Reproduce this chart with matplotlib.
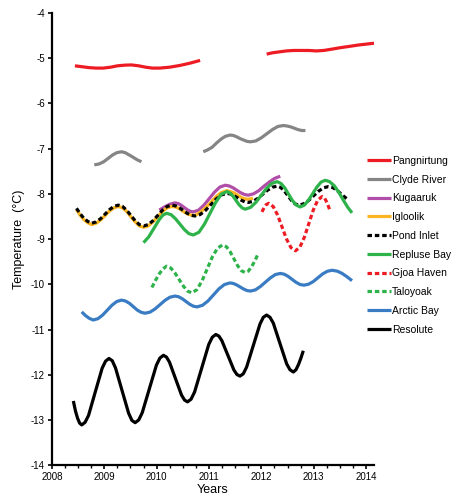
import matplotlib
matplotlib.use("Agg")
import matplotlib.pyplot as plt
from matplotlib.ticker import MultipleLocator

plt.rcParams['font.family'] = ['Liberation Sans', 'DejaVu Sans']
plt.rcParams['axes.unicode_minus'] = False

# --- data (decimal year, temperature in C) ---
pang_t1 = [2008.44, 2008.58, 2008.71, 2008.85, 2008.98, 2009.12, 2009.25, 2009.39, 2009.52, 2009.66,
           2009.79, 2009.92, 2010.06, 2010.25, 2010.45, 2010.64, 2010.83]
pang_v1 = [-5.17, -5.19, -5.21, -5.22, -5.22, -5.20, -5.17, -5.155, -5.15, -5.17,
           -5.20, -5.22, -5.22, -5.20, -5.16, -5.11, -5.05]
pang_t2 = [2012.10, 2012.22, 2012.35, 2012.48, 2012.61, 2012.76, 2012.90, 2013.05, 2013.19, 2013.35,
           2013.50, 2013.68, 2013.85, 2014.00, 2014.15]
pang_v2 = [-4.91, -4.88, -4.86, -4.84, -4.83, -4.83, -4.83, -4.84, -4.83, -4.80,
           -4.77, -4.74, -4.71, -4.69, -4.67]

clyde_t1 = [2008.81, 2008.90, 2008.99, 2009.07, 2009.16, 2009.24, 2009.33, 2009.40, 2009.46, 2009.52,
            2009.59, 2009.65, 2009.71]
clyde_v1 = [-7.36, -7.34, -7.29, -7.22, -7.14, -7.09, -7.07, -7.09, -7.13, -7.17,
            -7.22, -7.26, -7.29]
clyde_t2 = [2010.89, 2010.97, 2011.06, 2011.14, 2011.23, 2011.31, 2011.40, 2011.465, 2011.53, 2011.595,
            2011.66, 2011.725, 2011.79, 2011.895, 2012.00, 2012.105, 2012.21, 2012.315, 2012.42, 2012.49,
            2012.56, 2012.63, 2012.70, 2012.77, 2012.84]
clyde_v2 = [-7.07, -7.03, -6.97, -6.88, -6.79, -6.73, -6.70, -6.71, -6.74, -6.78,
            -6.81, -6.84, -6.85, -6.83, -6.76, -6.67, -6.58, -6.51, -6.49, -6.50,
            -6.52, -6.55, -6.58, -6.60, -6.60]

kug_t = [2010.05, 2010.15, 2010.25, 2010.35, 2010.408, 2010.467, 2010.525, 2010.583, 2010.642, 2010.70,
         2010.802, 2010.903, 2011.005, 2011.107, 2011.208, 2011.31, 2011.383, 2011.457, 2011.53, 2011.603,
         2011.677, 2011.75, 2011.85, 2011.95, 2012.05, 2012.15, 2012.25, 2012.36]
kug_v = [-8.36, -8.29, -8.23, -8.20, -8.213, -8.25, -8.30, -8.35, -8.387, -8.40,
         -8.36, -8.25, -8.105, -7.96, -7.85, -7.81, -7.825, -7.865, -7.92, -7.975,
         -8.015, -8.03, -8.00, -7.93, -7.83, -7.74, -7.66, -7.61]

igl_t = [2008.47, 2008.54, 2008.61, 2008.685, 2008.76, 2008.845, 2008.93, 2009.015, 2009.10, 2009.185,
         2009.27, 2009.35, 2009.43, 2009.51, 2009.59, 2009.67, 2009.75, 2009.84, 2009.93, 2010.02,
         2010.11, 2010.20, 2010.29, 2010.363, 2010.437, 2010.51, 2010.583, 2010.657, 2010.73, 2010.832,
         2010.933, 2011.035, 2011.137, 2011.238, 2011.34, 2011.408, 2011.477, 2011.545, 2011.613, 2011.682,
         2011.75, 2011.84]
igl_v = [-8.35, -8.47, -8.57, -8.64, -8.68, -8.65, -8.58, -8.48, -8.38, -8.31,
         -8.28, -8.31, -8.39, -8.51, -8.62, -8.71, -8.74, -8.71, -8.62, -8.51,
         -8.39, -8.31, -8.28, -8.29, -8.33, -8.39, -8.44, -8.47, -8.48, -8.41,
         -8.31, -8.19, -8.06, -7.97, -7.93, -7.95, -7.98, -8.03, -8.08, -8.11,
         -8.12, -8.10]

pond_t = [2008.47, 2008.54, 2008.61, 2008.685, 2008.76, 2008.845, 2008.93, 2009.015, 2009.10, 2009.185,
          2009.27, 2009.35, 2009.43, 2009.51, 2009.59, 2009.67, 2009.75, 2009.84, 2009.93, 2010.02,
          2010.11, 2010.20, 2010.29, 2010.363, 2010.437, 2010.51, 2010.583, 2010.657, 2010.73, 2010.832,
          2010.933, 2011.035, 2011.137, 2011.238, 2011.34, 2011.408, 2011.477, 2011.545, 2011.613, 2011.682,
          2011.75, 2011.842, 2011.933, 2012.025, 2012.117, 2012.208, 2012.30, 2012.368, 2012.437, 2012.505,
          2012.573, 2012.642, 2012.71, 2012.805, 2012.90, 2012.995, 2013.09, 2013.185, 2013.28, 2013.36,
          2013.44, 2013.52, 2013.60, 2013.67]
pond_v = [-8.32, -8.44, -8.54, -8.61, -8.65, -8.62, -8.55, -8.45, -8.35, -8.277,
          -8.25, -8.28, -8.365, -8.48, -8.595, -8.68, -8.71, -8.68, -8.595, -8.48,
          -8.365, -8.28, -8.25, -8.266, -8.31, -8.37, -8.43, -8.474, -8.49, -8.457,
          -8.365, -8.24, -8.115, -8.023, -7.99, -8.003, -8.04, -8.09, -8.14, -8.177,
          -8.19, -8.166, -8.10, -8.01, -7.92, -7.854, -7.83, -7.858, -7.935, -8.04,
          -8.145, -8.222, -8.25, -8.223, -8.148, -8.045, -7.943, -7.867, -7.84, -7.86,
          -7.92, -8.00, -8.08, -8.14]

rep_t = [2009.75, 2009.85, 2009.95, 2010.05, 2010.12, 2010.19, 2010.275, 2010.36, 2010.445, 2010.53,
         2010.615, 2010.70, 2010.807, 2010.913, 2011.02, 2011.127, 2011.233, 2011.34, 2011.398, 2011.457,
         2011.515, 2011.573, 2011.632, 2011.69, 2011.792, 2011.893, 2011.995, 2012.097, 2012.198, 2012.30,
         2012.373, 2012.447, 2012.52, 2012.593, 2012.667, 2012.74, 2012.82, 2012.90, 2012.98, 2013.06,
         2013.14, 2013.22, 2013.30, 2013.39, 2013.48, 2013.57, 2013.65, 2013.73]
rep_v = [-9.08, -8.95, -8.76, -8.57, -8.47, -8.43, -8.46, -8.55, -8.67, -8.79,
         -8.88, -8.91, -8.85, -8.67, -8.43, -8.19, -8.01, -7.95, -7.98, -8.05,
         -8.145, -8.24, -8.31, -8.34, -8.30, -8.19, -8.035, -7.88, -7.77, -7.73,
         -7.77, -7.87, -8.01, -8.15, -8.25, -8.29, -8.25, -8.14, -7.995, -7.85,
         -7.74, -7.70, -7.73, -7.82, -7.97, -8.15, -8.30, -8.42]

gjoa_t = [2012.01, 2012.05, 2012.09, 2012.14, 2012.225, 2012.31, 2012.395, 2012.48, 2012.565, 2012.65,
          2012.735, 2012.82, 2012.905, 2012.99, 2013.075, 2013.16, 2013.21, 2013.255, 2013.30]
gjoa_v = [-8.40, -8.31, -8.24, -8.21, -8.28, -8.47, -8.735, -9.00, -9.19, -9.26,
          -9.18, -8.96, -8.66, -8.36, -8.14, -8.06, -8.10, -8.20, -8.34]

talo_t = [2009.91, 2009.98, 2010.05, 2010.12, 2010.19, 2010.27, 2010.35, 2010.43, 2010.51, 2010.59,
          2010.67, 2010.768, 2010.867, 2010.965, 2011.063, 2011.162, 2011.26, 2011.332, 2011.403, 2011.475,
          2011.547, 2011.618, 2011.69, 2011.75, 2011.82, 2011.88, 2011.94]
talo_v = [-10.07, -9.91, -9.77, -9.66, -9.60, -9.64, -9.75, -9.895, -10.04, -10.15,
          -10.19, -10.12, -9.925, -9.66, -9.395, -9.20, -9.13, -9.17, -9.28, -9.435,
          -9.59, -9.70, -9.74, -9.71, -9.60, -9.47, -9.32]

arctic_t = [2008.57, 2008.64, 2008.71, 2008.79, 2008.88, 2008.97, 2009.06, 2009.15, 2009.24, 2009.33,
            2009.405, 2009.48, 2009.555, 2009.63, 2009.705, 2009.78, 2009.875, 2009.97, 2010.065, 2010.16,
            2010.255, 2010.35, 2010.42, 2010.49, 2010.56, 2010.63, 2010.70, 2010.77, 2010.875, 2010.98,
            2011.085, 2011.19, 2011.295, 2011.40, 2011.465, 2011.53, 2011.595, 2011.66, 2011.725, 2011.79,
            2011.885, 2011.98, 2012.075, 2012.17, 2012.265, 2012.36, 2012.435, 2012.51, 2012.585, 2012.66,
            2012.735, 2012.81, 2012.90, 2012.99, 2013.08, 2013.17, 2013.26, 2013.35, 2013.45, 2013.54,
            2013.63, 2013.73]
arctic_v = [-10.61, -10.69, -10.75, -10.79, -10.76, -10.68, -10.57, -10.46, -10.38, -10.35,
            -10.37, -10.42, -10.495, -10.57, -10.62, -10.64, -10.615, -10.545, -10.45, -10.355,
            -10.285, -10.26, -10.276, -10.32, -10.38, -10.44, -10.484, -10.50, -10.465, -10.37,
            -10.235, -10.10, -10.005, -9.97, -9.982, -10.015, -10.06, -10.105, -10.138, -10.15,
            -10.124, -10.05, -9.955, -9.86, -9.786, -9.76, -9.777, -9.825, -9.89, -9.955,
            -10.003, -10.02, -9.998, -9.94, -9.855, -9.77, -9.712, -9.69, -9.71, -9.76,
            -9.83, -9.92]

res_t = [2008.41, 2008.45, 2008.49, 2008.53, 2008.57, 2008.635, 2008.70, 2008.83, 2008.96, 2009.025,
         2009.09, 2009.153, 2009.215, 2009.34, 2009.465, 2009.528, 2009.59, 2009.658, 2009.725, 2009.86,
         2009.995, 2010.063, 2010.13, 2010.188, 2010.245, 2010.36, 2010.475, 2010.533, 2010.59, 2010.658,
         2010.725, 2010.86, 2010.995, 2011.063, 2011.13, 2011.188, 2011.245, 2011.36, 2011.475, 2011.533,
         2011.59, 2011.654, 2011.718, 2011.845, 2011.973, 2012.036, 2012.10, 2012.164, 2012.228, 2012.355,
         2012.483, 2012.546, 2012.61, 2012.66, 2012.71, 2012.755, 2012.80]
res_v = [-12.58, -12.80, -12.96, -13.07, -13.11, -13.05, -12.90, -12.375, -11.855, -11.70,
         -11.64, -11.69, -11.85, -12.35, -12.85, -13.01, -13.06, -13.00, -12.84, -12.315,
         -11.79, -11.63, -11.57, -11.61, -11.72, -12.085, -12.45, -12.56, -12.60, -12.54,
         -12.38, -11.855, -11.33, -11.17, -11.11, -11.145, -11.245, -11.57, -11.895, -11.995,
         -12.03, -11.98, -11.83, -11.355, -10.88, -10.73, -10.68, -10.73, -10.86, -11.31,
         -11.76, -11.89, -11.94, -11.89, -11.77, -11.63, -11.47]

red = '#ed1c24'
green = '#2db34a'
lw = 2.3
dash = (1.4, 0.9)
kw = dict(lw=lw, solid_joinstyle='round', solid_capstyle='butt')

fig = plt.figure(figsize=(4.55, 4.97), dpi=100)
ax = fig.add_axes([0.114, 0.064, 0.708, 0.910])

ax.plot(pang_t1, pang_v1, color=red, label='Pangnirtung', **kw)
ax.plot(pang_t2, pang_v2, color=red, **kw)
ax.plot(clyde_t1, clyde_v1, color='#858585', label='Clyde River', **kw)
ax.plot(clyde_t2, clyde_v2, color='#858585', **kw)
ax.plot(kug_t, kug_v, color='#b04ea8', label='Kugaaruk', **kw)
ax.plot(igl_t, igl_v, color='#fbb520', label='Igloolik', **kw)
ax.plot(pond_t, pond_v, color='black', dashes=dash, label='Pond Inlet', **kw)
ax.plot(rep_t, rep_v, color=green, label='Repluse Bay', **kw)
ax.plot(gjoa_t, gjoa_v, color=red, dashes=dash, label='Gjoa Haven', **kw)
ax.plot(talo_t, talo_v, color=green, dashes=dash, label='Taloyoak', **kw)
ax.plot(arctic_t, arctic_v, color='#3a7cc3', label='Arctic Bay', **kw)
ax.plot(res_t, res_v, color='black', label='Resolute', **kw)

ax.set_xlim(2008, 2014.15)
ax.set_ylim(-14, -4)
ax.xaxis.set_major_locator(MultipleLocator(1))
ax.xaxis.set_minor_locator(MultipleLocator(0.25))
ax.yaxis.set_major_locator(MultipleLocator(1))
ax.spines['top'].set_visible(False)
ax.spines['right'].set_visible(False)
ax.spines['left'].set_linewidth(1.6)
ax.spines['bottom'].set_linewidth(1.6)
ax.tick_params(axis='both', which='major', labelsize=7, length=3, width=1.2, pad=2)
ax.tick_params(axis='x', which='minor', length=2.5, width=1.0)
ax.set_xlabel('Years', fontsize=9, labelpad=1)
ax.set_ylabel('Temperature  (°C)', fontsize=9, labelpad=4)

fig.legend(loc='upper left', bbox_to_anchor=(0.797, 0.695), frameon=False, fontsize=7.5,
           handlelength=2.3, handletextpad=0.1, labelspacing=0.84, borderaxespad=0)

fig.savefig('out.png', dpi=100)
